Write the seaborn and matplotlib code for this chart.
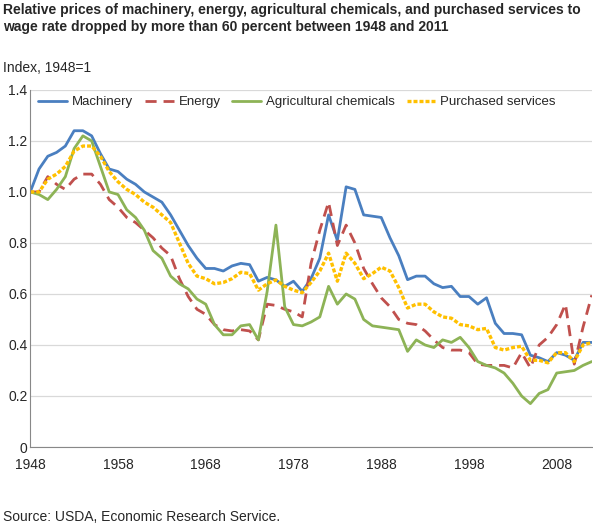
import matplotlib
matplotlib.use("Agg")
import matplotlib.pyplot as plt
import seaborn as sns
import pandas as pd
import numpy as np

years = list(range(1948, 2013))
machinery = [1.0,1.09,1.14,1.155,1.18,1.24,1.24,1.22,1.15,1.09,1.08,1.05,1.03,1.00,0.98,0.96,0.91,0.85,0.79,0.74,0.70,
             0.70,0.69,0.71,0.72,0.715,0.65,0.665,0.655,0.63,0.65,0.61,0.66,0.74,0.91,0.81,1.02,1.01,0.91,0.905,
             0.90,0.82,0.75,0.656,0.67,0.67,0.64,0.625,0.63,0.59,0.59,0.56,0.585,0.485,0.445,0.445,0.44,0.36,0.35,0.335,0.37,0.36,0.34,0.41,0.41]
energy = [1.0,1.0,1.06,1.03,1.01,1.05,1.07,1.07,1.03,0.97,0.94,0.90,0.88,0.85,0.82,0.78,0.75,0.66,0.59,0.54,0.52,
          0.48,0.46,0.455,0.46,0.455,0.42,0.56,0.555,0.54,0.53,0.51,0.72,0.85,0.96,0.79,0.87,0.80,0.70,0.64,
          0.585,0.55,0.50,0.485,0.48,0.455,0.42,0.39,0.38,0.38,0.37,0.325,0.32,0.32,0.32,0.31,0.37,0.31,0.40,0.43,0.48,0.56,0.325,0.47,0.595]
agchem = [1.0,0.99,0.97,1.01,1.06,1.17,1.22,1.20,1.10,1.00,0.99,0.93,0.90,0.85,0.77,0.74,0.67,0.64,0.62,0.58,0.56,
          0.48,0.44,0.44,0.475,0.48,0.42,0.61,0.87,0.55,0.48,0.475,0.49,0.51,0.63,0.56,0.60,0.58,0.50,0.475,
          0.47,0.465,0.46,0.375,0.42,0.40,0.39,0.42,0.41,0.43,0.39,0.335,0.32,0.31,0.29,0.25,0.20,0.17,0.21,0.225,0.29,0.295,0.30,0.32,0.335]
services = [1.0,1.0,1.05,1.07,1.10,1.16,1.18,1.18,1.14,1.08,1.04,1.01,0.99,0.96,0.94,0.91,0.88,0.80,0.72,0.67,0.66,
            0.64,0.645,0.66,0.685,0.68,0.615,0.64,0.655,0.63,0.615,0.605,0.645,0.69,0.76,0.65,0.76,0.72,0.66,0.68,
            0.705,0.69,0.625,0.545,0.56,0.56,0.53,0.51,0.505,0.48,0.475,0.46,0.465,0.39,0.38,0.39,0.395,0.34,0.34,0.33,0.37,0.37,0.335,0.40,0.41]
series_names = ["Machinery", "Energy", "Agricultural chemicals", "Purchased services"]
xticks = [1948, 1958, 1968, 1978, 1988, 1998, 2008]

sns.set_style("white")
plt.rcParams['font.family'] = ['Liberation Sans', 'DejaVu Sans']

df = pd.DataFrame({"year": years, series_names[0]: machinery, series_names[1]: energy,
                   series_names[2]: agchem, series_names[3]: services})
long = df.melt("year", var_name="series", value_name="value")

fig = plt.figure(figsize=(5.93, 5.29), dpi=100)
ax = fig.add_axes([0.051, 0.155, 0.947, 0.675])
colors = {"Machinery": "#4a7fc0", "Energy": "#c0504d", "Agricultural chemicals": "#8db356", "Purchased services": "#ffc000"}
styles = {"Machinery": dict(ls="-"), "Energy": dict(ls=(0, (4, 2.5))),
          "Agricultural chemicals": dict(ls="-"), "Purchased services": dict(ls=(0, (1.2, 0.6)))}
for name in series_names:
    sub = long[long.series == name]
    sns.lineplot(data=sub, x="year", y="value", ax=ax, color=colors[name], lw=2 if name != "Purchased services" else 2.4,
                 label=name, **styles[name])

ax.set_xlim(1948, 2012)
ax.set_ylim(0, 1.4)
ax.set_yticks(np.arange(0, 1.41, 0.2))
ax.set_yticklabels(["0"] + [f"{v:.1f}" for v in np.arange(0.2, 1.41, 0.2)], fontsize=10)
ax.set_xticks(xticks)
ax.set_xticklabels([str(x) for x in xticks], fontsize=10)
ax.grid(axis="y", color="#d9d9d9", lw=0.9)
ax.set_axisbelow(True)
for s in ["top", "right"]:
    ax.spines[s].set_visible(False)
ax.spines["left"].set_color("#888888")
ax.spines["bottom"].set_color("#888888")
ax.tick_params(axis="x", direction="out", length=5, color="#888888", pad=3)
ax.tick_params(axis="y", length=0, pad=2)
ax.set_xlabel("")
ax.set_ylabel("")
ax.legend(loc="upper left", bbox_to_anchor=(0.0, 1.005), ncol=4, frameon=False, fontsize=9.5,
          handlelength=2.2, columnspacing=0.9, handletextpad=0.35, borderaxespad=0.2)

fig.text(0.005, 0.995, "Relative prices of machinery, energy, agricultural chemicals, and purchased services to\nwage rate dropped by more than 60 percent between 1948 and 2011",
         fontsize=10, fontweight="bold", va="top", ha="left", linespacing=1.3)
fig.text(0.005, 0.872, "Index, 1948=1", fontsize=10, va="center", ha="left")
fig.text(0.005, 0.022, "Source: USDA, Economic Research Service.", fontsize=10, va="center", ha="left")

fig.savefig("out.png", dpi=100)
